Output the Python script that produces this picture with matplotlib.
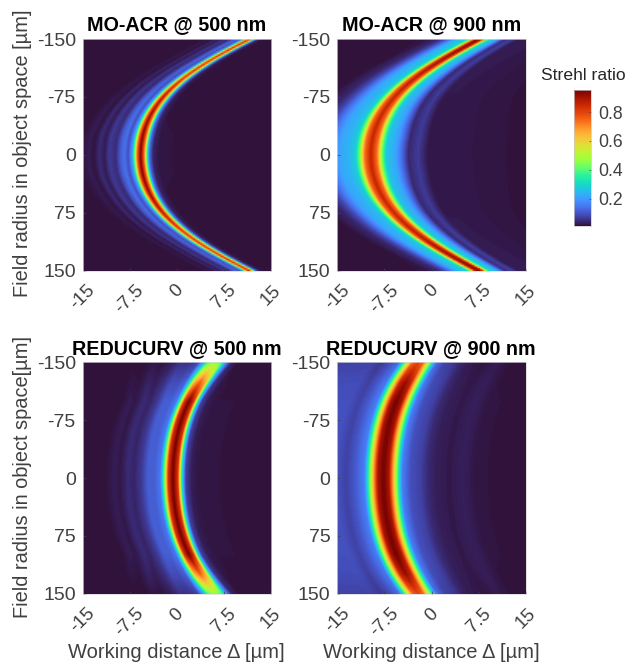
import numpy as np
import matplotlib
matplotlib.use('Agg')
import matplotlib.pyplot as plt

plt.rcParams['font.family'] = ['Liberation Sans', 'DejaVu Sans']
plt.rcParams['axes.unicode_minus'] = False

W, H = 633, 662
vmin, vmax = 0.015, 0.95

x_ticks = [-15, -7.5, 0, 7.5, 15]
x_labels = ['-15', '-7.5', '0', '7.5', '15']
y_ticks = [-150, -75, 0, 75, 150]
cbar_ticks = [0.2, 0.4, 0.6, 0.8]

# field radius where the curves were read (mirrored for negative field)
field = [0, 25, 50, 75, 100, 125, 150]

# ridge position in um, peak strehl and width factor read at each field
acr500_center = [-6.0, -5.4, -4.4, -2.4, 1.0, 5.6, 11.3]
acr500_peak = [0.95, 0.95, 0.93, 0.9, 0.84, 0.84, 0.86]
acr500_width = [1.0, 1.0, 0.95, 0.9, 0.85, 0.8, 0.8]

acr900_center = [-9.8, -9.2, -8.0, -6.1, -2.6, 1.9, 7.4]
acr900_peak = [0.86, 0.86, 0.86, 0.86, 0.88, 0.92, 0.96]
acr900_width = [1.0, 1.0, 0.95, 0.88, 0.82, 0.75, 0.7]

red500_center = [-0.7, -0.6, -0.2, 0.6, 1.9, 3.6, 5.9]
red500_peak = [0.96, 0.96, 0.96, 0.96, 0.96, 0.76, 0.48]
red500_width = [1.0, 1.0, 1.0, 1.0, 1.0, 1.15, 1.35]

red900_center = [-7.7, -7.6, -7.2, -6.6, -5.6, -4.1, -2.2]
red900_peak = [0.96, 0.96, 0.96, 0.96, 0.96, 0.92, 0.8]
red900_width = [1.0, 1.0, 1.0, 1.0, 1.0, 1.0, 1.0]

# strehl across the ridge, offset from ridge position in um
off500 = [-30, -10, -8.2, -7.4, -6.6, -5.8, -5, -4, -3.2, -2.6, -2, -1.4, -1, -0.6, 0, 0.6, 1, 1.4, 2, 3, 30]
prof500 = [0.015, 0.015, 0.03, 0.02, 0.05, 0.03, 0.07, 0.05, 0.12, 0.15, 0.1, 0.2, 0.42, 0.76, 1.0, 0.76, 0.4, 0.14, 0.04, 0.02, 0.015]

off900 = [-30, -12, -9, -7.5, -6, -5, -3.5, -2.5, -1.8, -1, 0, 1, 1.8, 2.5, 4, 5, 6, 7.5, 9, 11, 30]
prof900 = [0.015, 0.02, 0.05, 0.1, 0.19, 0.25, 0.28, 0.32, 0.5, 0.85, 1.0, 0.85, 0.5, 0.31, 0.25, 0.15, 0.05, 0.08, 0.03, 0.03, 0.015]

offr500 = [-30, -11, -9.5, -8.4, -7.2, -6.2, -5, -4, -3, -2, -1.4, -0.8, 0, 0.8, 1.4, 2, 3, 4.5, 30]
profr500 = [0.015, 0.015, 0.03, 0.025, 0.05, 0.04, 0.07, 0.12, 0.12, 0.16, 0.42, 0.85, 1.0, 0.85, 0.35, 0.08, 0.03, 0.02, 0.015]

offr900 = [-30, -7.4, -5.9, -4.6, -3, -2.3, -1.6, -0.9, 0, 0.9, 1.6, 2.3, 3, 4.3, 5.9, 7, 8.2, 10.5, 12.7, 15, 30]
profr900 = [0.09, 0.1, 0.08, 0.11, 0.17, 0.4, 0.68, 0.93, 1.0, 0.93, 0.68, 0.4, 0.17, 0.1, 0.08, 0.05, 0.035, 0.025, 0.035, 0.02, 0.015]

panels = [
    ('MO-ACR @ 500 nm', 82.7, 39, acr500_center, acr500_peak, acr500_width, off500, prof500),
    ('MO-ACR @ 900 nm', 337.3, 39, acr900_center, acr900_peak, acr900_width, off900, prof900),
    ('REDUCURV @ 500 nm', 82.7, 362.3, red500_center, red500_peak, red500_width, offr500, profr500),
    ('REDUCURV @ 900 nm', 337.3, 362.3, red900_center, red900_peak, red900_width, offr900, profr900),
]


def make_axes(left, top, w, h):
    return fig.add_axes([left / W, 1 - (top + h) / H, w / W, h / H])


def strehl_map(center, peak, width, off, prof):
    xs = np.linspace(-15, 15, 181)
    ys = np.linspace(-150, 150, 151)
    # smooth the read ridge curves, even in field so no kink at 0
    f2 = np.array(field, dtype=float) ** 2
    c = np.polyval(np.polyfit(f2, center, 3), ys ** 2)
    p = np.interp(np.abs(ys), field, peak)
    w = np.interp(np.abs(ys), field, width)
    z = np.zeros((len(ys), len(xs)))
    for i in range(len(ys)):
        z[i] = np.interp((xs - c[i]) / w[i], off, prof) * p[i]
    return z


fig = plt.figure(figsize=(W / 100, H / 100), dpi=100)

for title, left, top, center, peak, width, off, prof in panels:
    ax = make_axes(left, top, 188.6, 231.5)
    z = strehl_map(center, peak, width, off, prof)
    im = ax.imshow(z, extent=[-15, 15, 150, -150], aspect='auto', cmap='turbo',
                   vmin=vmin, vmax=vmax, interpolation='bilinear')
    ax.set_xticks(x_ticks)
    ax.set_xticklabels(x_labels, rotation=45, ha='center', va='top')
    ax.set_yticks(y_ticks)
    ax.tick_params(axis='x', direction='in', length=2, width=0.5, color='#404040',
                   labelcolor='#404040', labelsize=13.5, pad=8)
    ax.tick_params(axis='y', direction='in', length=2, width=0.5, color='#404040',
                   labelcolor='#404040', labelsize=14, pad=5)
    for s in ax.spines.values():
        s.set_color('#d8d8d8')
        s.set_linewidth(0.5)
    fig.text((left + 94) / W, 1 - (top - 14) / H, title, fontsize=14.2, fontweight='bold',
             color='black', ha='center', va='center')

fig.text(23 / W, 1 - 153 / H, 'Field radius in object space [µm]', rotation=90, fontsize=14.4,
         color='#404040', ha='center', va='center')
fig.text(23 / W, 1 - 477 / H, 'Field radius in object space[µm]', rotation=90, fontsize=14.4,
         color='#404040', ha='center', va='center')
fig.text(176 / W, 1 - 652 / H, 'Working distance Δ [µm]', fontsize=14.5,
         color='#404040', ha='center', va='center')
fig.text(431 / W, 1 - 652 / H, 'Working distance Δ [µm]', fontsize=14.5,
         color='#404040', ha='center', va='center')

cax = make_axes(573.7, 90.3, 17.6, 135.4)
cb = fig.colorbar(im, cax=cax)
cb.set_ticks(cbar_ticks)
cb.ax.tick_params(direction='in', length=1.5, width=0.5, color='#404040',
                  labelcolor='#404040', labelsize=12.7, pad=5)
cb.outline.set_edgecolor('#c8c8c8')
cb.outline.set_linewidth(0.5)
fig.text(583 / W, 1 - 75 / H, 'Strehl ratio', fontsize=12.6, color='#262626',
         ha='center', va='center')

fig.savefig('out.png', dpi=100)
